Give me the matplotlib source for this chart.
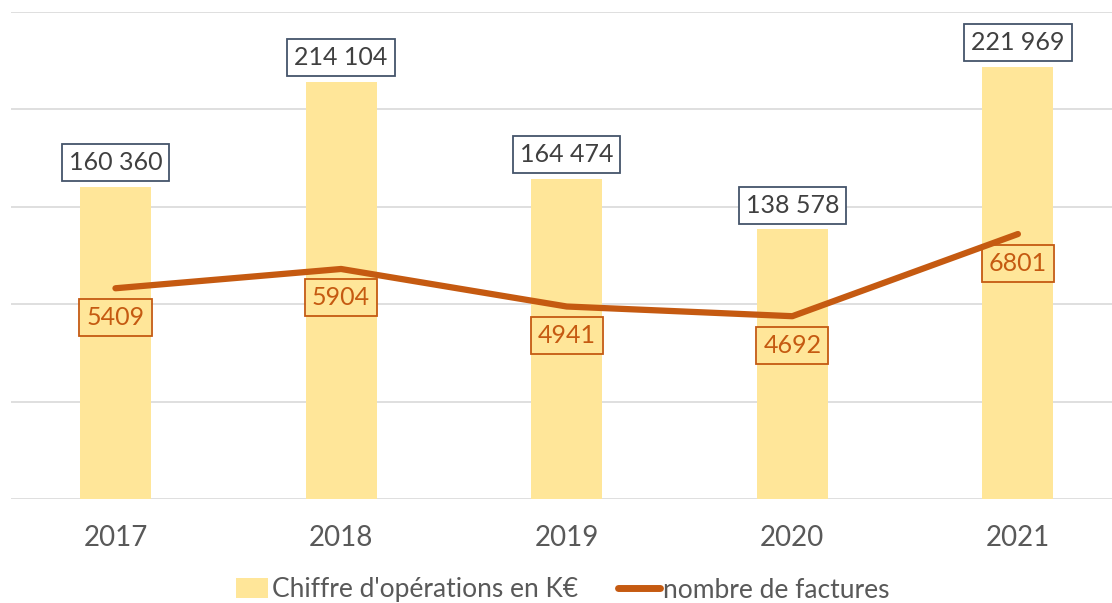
import matplotlib
matplotlib.use("Agg")
import matplotlib.pyplot as plt
from matplotlib.patches import Patch
from matplotlib.lines import Line2D

years = ["2017", "2018", "2019", "2020", "2021"]
chiffre = [160360, 214104, 164474, 138578, 221969]
factures = [5409, 5904, 4941, 4692, 6801]

BAR_C = "#FFE699"
LINE_C = "#C55A11"
TXT_C = "#404040"
TICK_C = "#595959"
GRID_C = "#D9D9D9"

plt.rcParams['font.family'] = ['Lato', 'DejaVu Sans']

W, H = 1112, 603
fig = plt.figure(figsize=(W/100, H/100), dpi=100)
left = 11 / W
bottom = (H - 499) / H
top = (H - 12) / H
ax = fig.add_axes([left, bottom, 1 - left, top - bottom])
ax2 = ax.twinx()

x = list(range(len(years)))
ax.bar(x, chiffre, width=0.315, color=BAR_C, zorder=2)
ax.set_xlim(-0.463, 4.417)
ax.set_ylim(0, 250000)
ax.set_yticks(range(0, 250001, 50000))
ax.yaxis.grid(True, color=GRID_C, linewidth=1.2, zorder=0)
ax.set_axisbelow(True)
ax.tick_params(axis='y', length=0, labelleft=False)
ax.tick_params(axis='x', length=0, labelsize=20, colors=TICK_C, pad=19)
ax.set_xticks(x)
ax.set_xticklabels(years)
for s in ax.spines.values():
    s.set_visible(False)

for xi, v in zip(x, chiffre):
    ax.annotate(f"{v:,}".replace(",", " "), (xi, v), xytext=(0, 24),
                textcoords="offset pixels",
                ha="center", va="center", fontsize=18, color=TXT_C,
                bbox=dict(boxstyle="square,pad=0.28", fc="white", ec="#44546A", lw=1.3),
                zorder=5)

ax2.plot(x, factures, color=LINE_C, linewidth=4.5, solid_capstyle="round", zorder=3)
ax2.set_ylim(0, 12500)
ax2.axis("off")
for xi, v in zip(x, factures):
    ax2.annotate(str(v), (xi, v), xytext=(0, -29), textcoords="offset pixels",
                 ha="center", va="center", fontsize=18, color=LINE_C,
                 bbox=dict(boxstyle="square,pad=0.28", fc="none", ec=LINE_C, lw=1.3),
                 zorder=5)

leg_y = (H - 590) / H
fig.legend([Patch(facecolor=BAR_C, edgecolor="none")], ["Chiffre d'opérations en K€"],
           loc="center left", bbox_to_anchor=(236/W, leg_y), frameon=False,
           fontsize=19, labelcolor=TICK_C, handlelength=1.2, handleheight=0.8,
           handletextpad=0.15, borderpad=0, borderaxespad=0)
fig.legend([Line2D([0], [0], color=LINE_C, linewidth=5, solid_capstyle="round")],
           ["nombre de factures"],
           loc="center left", bbox_to_anchor=(618/W, leg_y), frameon=False,
           fontsize=19, labelcolor=TICK_C, handlelength=1.6,
           handletextpad=0.1, borderpad=0, borderaxespad=0)

fig.savefig("out.png", dpi=100)
